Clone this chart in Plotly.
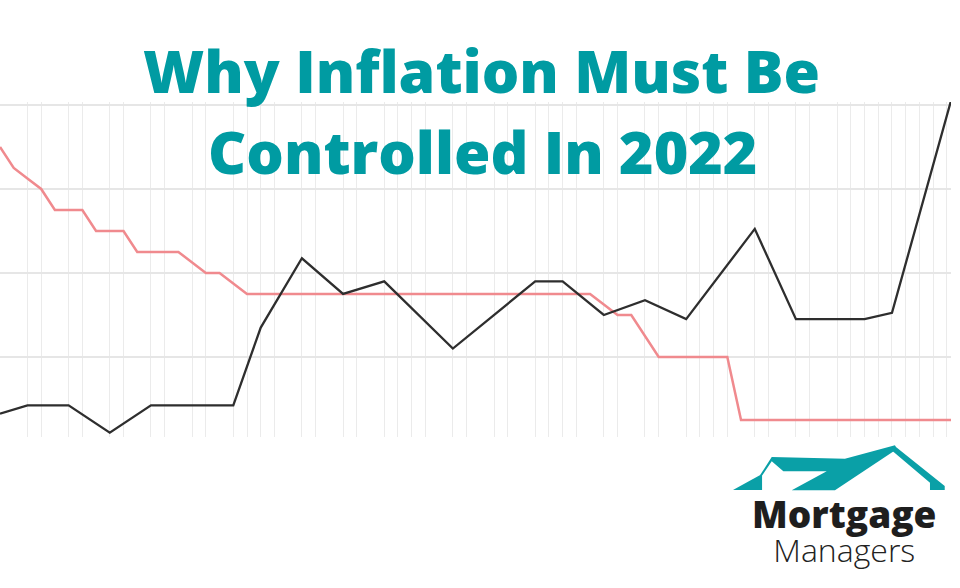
import plotly.graph_objects as go

# interest rate (stepped, falling) - month index vs %
rate_months = [0, 1, 2, 3, 4, 6, 7, 9, 10, 13, 15, 16, 18, 43, 45, 46, 48, 53, 54, 69.3]
rate_values = [7.0, 6.5, 6.25, 6.0, 5.5, 5.5, 5.0, 5.0, 4.5, 4.5, 4.0, 4.0, 3.5, 3.5, 3.0, 3.0, 2.0, 2.0, 0.5, 0.5]

# inflation
cpi_months = [0, 2, 5, 8, 11, 17, 19, 22, 25, 28, 33, 39, 41, 44, 47, 50, 55, 58, 63, 65, 69.3]
cpi_values = [0.65, 0.85, 0.85, 0.2, 0.85, 0.85, 2.7, 4.35, 3.5, 3.8, 2.2, 3.8, 3.8, 3.0, 3.35, 2.9, 5.05, 2.9, 2.9, 3.05, 8.1]

# months that carry a vertical grid line
grid_months = [2, 3, 5, 6, 8, 9, 11, 12, 14, 15, 17, 18, 19, 20, 22, 23, 25, 26, 28, 29,
               30, 31, 33, 34, 36, 37, 39, 40, 41, 42, 44, 45, 47, 48, 50, 51, 52, 53,
               55, 56, 58, 59, 61, 62, 63, 64, 65, 66, 67, 68, 69]

title_lines = ["Why Inflation Must Be", "Controlled In 2022"]

TEAL = "#009ba2"
W, H = 960, 588
L, R, T, B = 0, 951, 102, 437


def to_paper(x, y):
    return (x - L) / (R - L), (B - y) / (B - T)


def path(points):
    pts = [to_paper(x, y) for x, y in points]
    return "M " + " L ".join(f"{x:.4f},{y:.4f}" for x, y in pts) + " Z"


fig = go.Figure()
fig.add_trace(go.Scatter(x=rate_months, y=rate_values, mode="lines",
                         line=dict(color="#f08a8e", width=2.5), name="Rate"))
fig.add_trace(go.Scatter(x=cpi_months, y=cpi_values, mode="lines",
                         line=dict(color="#2e2e2e", width=2.3), name="Inflation"))

# logo roof (pixel outline)
roof = [
    [(733, 490), (762, 474), (762, 490)],
    [(760, 475.3), (771.7, 457), (845, 458.7), (895, 445.3), (896.7, 449.3),
     (835, 490.3), (791.7, 490.3), (826.7, 471.3), (783.3, 471.3), (771.7, 461.3),
     (762.3, 475.3)],
    [(891.3, 450), (894.7, 446), (944.7, 486), (944.7, 490), (930, 490), (930, 482.7)],
]
shapes = [dict(type="path", xref="paper", yref="paper", path=path(p),
               fillcolor="#0aa0a7", line=dict(width=0)) for p in roof]

annotations = []
for text, (cx, cy) in zip(title_lines, [(481.5, 70), (482.5, 151)]):
    x, y = to_paper(cx, cy)
    annotations.append(dict(text=text, x=x, y=y, xref="paper", yref="paper",
                            xanchor="center", yanchor="middle", showarrow=False,
                            font=dict(family="Open Sans", size=59, color=TEAL, weight=800)))

# logo words as one two-line block (line gap follows the base font size)
logo_text = ("<span style='font-size:37px;font-weight:800;fill:#1e1e1e'>Mortgage</span><br>"
             "<span style='font-size:32px;font-weight:300;fill:#222222'>Managers</span>")
x, y = to_paper(844, 529)
annotations.append(dict(text=logo_text, x=x, y=y, xref="paper", yref="paper",
                        xanchor="center", yanchor="middle", align="center", showarrow=False,
                        font=dict(family="Open Sans", size=26, color="#1e1e1e")))

fig.update_layout(
    width=W, height=H,
    margin=dict(l=L, r=W - R, t=T, b=H - B),
    paper_bgcolor="white", plot_bgcolor="white",
    showlegend=False,
    xaxis=dict(range=[0, 69.3], tickvals=grid_months, showticklabels=False, ticks="",
               gridcolor="#ebebeb", gridwidth=1, zeroline=False, showline=False),
    yaxis=dict(range=[0.095, 8.07], tick0=0, dtick=2, showticklabels=False, ticks="",
               gridcolor="#e6e6e6", gridwidth=1.5, zeroline=False, showline=False),
    shapes=shapes,
    annotations=annotations,
)

# the page body has a default 8px margin; drop it so the figure sits at the window corner
fig.write_html("out.html", config={"displayModeBar": False},
               post_script="document.body.style.margin='0';")
